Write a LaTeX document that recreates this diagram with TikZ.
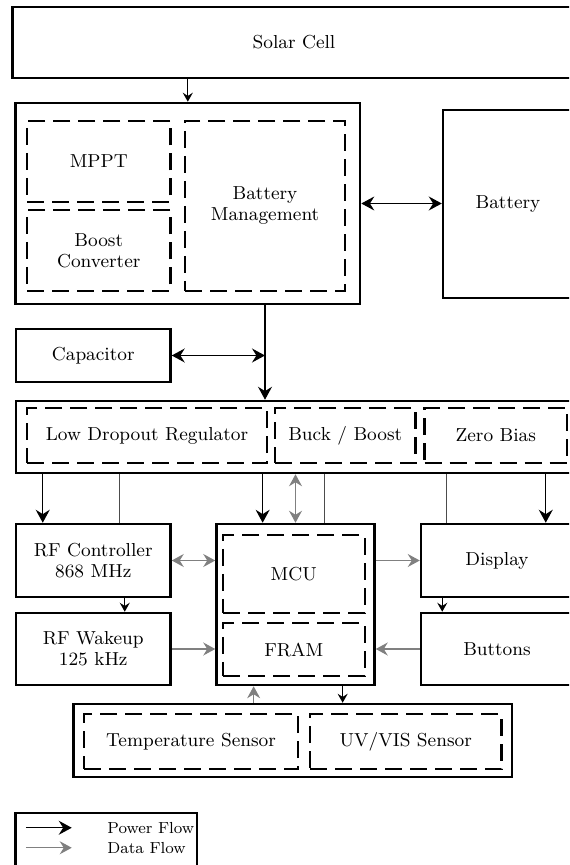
\documentclass[tikz,border=0pt]{standalone}
\usetikzlibrary{arrows.meta,calc}
\begin{document}
\begin{tikzpicture}[x=0.5pt, y=-0.5pt,
  every node/.style={font=\fontsize{9.4}{10.5}\selectfont, align=center},
  sz/.style 2 args={minimum width=#1*0.5pt, minimum height=#2*0.5pt},
  blk/.style={draw, line width=1.25pt, rectangle, inner sep=0pt},
  sub/.style={draw, line width=1.1pt, dash pattern=on 8.5pt off 4pt, inner sep=0pt},
  pwr/.style={line width=0.6pt, -{Stealth[length=6.5pt,width=7pt,inset=2.2pt]}},
  pwr2/.style={line width=0.6pt, {Stealth[length=6.5pt,width=7pt,inset=2.2pt]}-{Stealth[length=6.5pt,width=7pt,inset=2.2pt]}},
  pwrs/.style={line width=0.6pt, -{Stealth[length=4.5pt,width=5pt,inset=1.6pt]}},
  dat/.style={gray, line width=0.6pt, -{Stealth[length=6pt,width=6.5pt,inset=2pt]}},
  dat2/.style={gray, line width=0.6pt, {Stealth[length=6pt,width=6.5pt,inset=2pt]}-{Stealth[length=6pt,width=6.5pt,inset=2pt]}},
  gnd/.style={black!70, line width=0.6pt}]
  \useasboundingbox (0,0) rectangle (569,865);
  \clip (0,0) rectangle (569,865);

  \node[blk, sz={563}{71}] (solar) at (294,42.5) {Solar Cell};
  \node[blk, sz={344.5}{201}] (pm) at (187.8,203.5) {};
  \node[sub, sz={143.5}{81}] (mppt) at (98.75,161.5) {MPPT};
  \node[sub, sz={143.5}{81}] (boost) at (98.75,250.5) {Boost\\Converter};
  \node[sub, sz={160}{170}] (bms) at (265,206) {Battery\\Management};
  \node[blk, sz={130}{188}] (batt) at (508,204) {Battery};
  \node[blk, sz={154.5}{53}] (cap) at (93.25,355.5) {Capacitor};
  \node[blk, sz={562}{72}] (reg) at (297,437) {};
  \node[sub, sz={240}{55}] (ldo) at (147,435.5) {Low Dropout Regulator};
  \node[sub, sz={140.5}{55}] (buck) at (345.25,435.5) {Buck / Boost};
  \node[sub, sz={142.5}{55}] (zero) at (495.75,435.5) {Zero Bias};
  \node[blk, sz={154.5}{73}] (rfc) at (93.25,560.5) {RF Controller\\868 MHz};
  \node[blk, sz={158}{161}] (mcubox) at (295.5,604.5) {};
  \node[sub, sz={141.6}{78}] (mcu) at (293.8,574) {MCU};
  \node[sub, sz={141.6}{53}] (fram) at (293.8,649.5) {FRAM};
  \node[blk, sz={152}{73}] (disp) at (497,560.5) {Display};
  \node[blk, sz={154.5}{72}] (wake) at (93.25,649) {RF Wakeup\\125 kHz};
  \node[blk, sz={152}{72}] (btn) at (497,649) {Buttons};
  \node[blk, sz={438.3}{73}] (sens) at (292.85,740.5) {};
  \node[sub, sz={214}{55}] (temp) at (191,741.5) {Temperature Sensor};
  \node[sub, sz={191.5}{55}] (uvvis) at (405.75,741.5) {UV/VIS Sensor};
  \node[blk, sz={181.4}{74}] (legend) at (106.3,850) {};

  \draw[pwrs] (solar.south -| pm.north) -- (pm.north);
  \draw[pwr2] (pm.east) -- (pm.east -| batt.west);
  \draw[pwr] (pm.south -| bms) -- (reg.north -| bms);
  \coordinate (capjoin) at (cap.east -| bms);
  \draw[pwr2] (cap.east) -- (capjoin);

  \coordinate (r1) at ($(rfc.north west)+(28,0)$);
  \coordinate (r2) at ($(rfc.north west)+(105,0)$);
  \coordinate (m1) at ($(mcubox.north west)+(47.4,0)$);
  \coordinate (m2) at ($(mcubox.north west)+(109,0)$);
  \coordinate (d1) at ($(disp.north west)+(26.5,0)$);
  \coordinate (d2) at ($(disp.north west)+(126,0)$);
  \draw[pwr] (reg.south -| r1) -- (r1);
  \draw[gnd] (reg.south -| r2) -- (r2);
  \draw[pwr] (reg.south -| m1) -- (m1);
  \draw[dat2] (reg.south -| mcubox.north) -- (mcubox.north);
  \draw[gnd] (reg.south -| m2) -- (m2);
  \draw[gnd] (reg.south -| d1) -- (d1);
  \draw[pwr] (reg.south -| d2) -- (d2);

  \draw[dat2] (rfc.east) -- (rfc.east -| mcubox.west);
  \draw[dat] (mcubox.east |- disp) -- (disp.west);
  \coordinate (w1) at ($(rfc.south west)+(110,0)$);
  \draw[pwrs] (w1) -- (wake.north -| w1);
  \coordinate (b1) at ($(disp.south west)+(22.5,0)$);
  \draw[pwrs] (b1) -- (btn.north -| b1);
  \draw[dat] (wake.east) -- (wake.east -| mcubox.west);
  \draw[dat] (btn.west) -- (btn.west -| mcubox.east);
  \coordinate (s1) at ($(mcubox.south west)+(38.4,0)$);
  \draw[dat] (sens.north -| s1) -- (s1);
  \coordinate (s2) at ($(mcubox.south west)+(127.4,0)$);
  \draw[pwrs] (s2) -- (sens.north -| s2);

  \coordinate (pf0) at ($(legend.north west)+(11.4,16)$);
  \coordinate (pf1) at ($(pf0)+(46,0)$);
  \coordinate (df0) at ($(pf0)+(0,20)$);
  \coordinate (df1) at ($(pf1)+(0,20)$);
  \draw[pwr] (pf0) -- (pf1);
  \draw[dat] (df0) -- (df1);
  \node[anchor=west, font=\fontsize{8}{9}\selectfont] (pftxt) at ($(pf1)+(28.6,0)$) {Power Flow};
  \node[anchor=west, font=\fontsize{8}{9}\selectfont] (dftxt) at ($(df1)+(28.6,0)$) {Data Flow};
\end{tikzpicture}
\end{document}
